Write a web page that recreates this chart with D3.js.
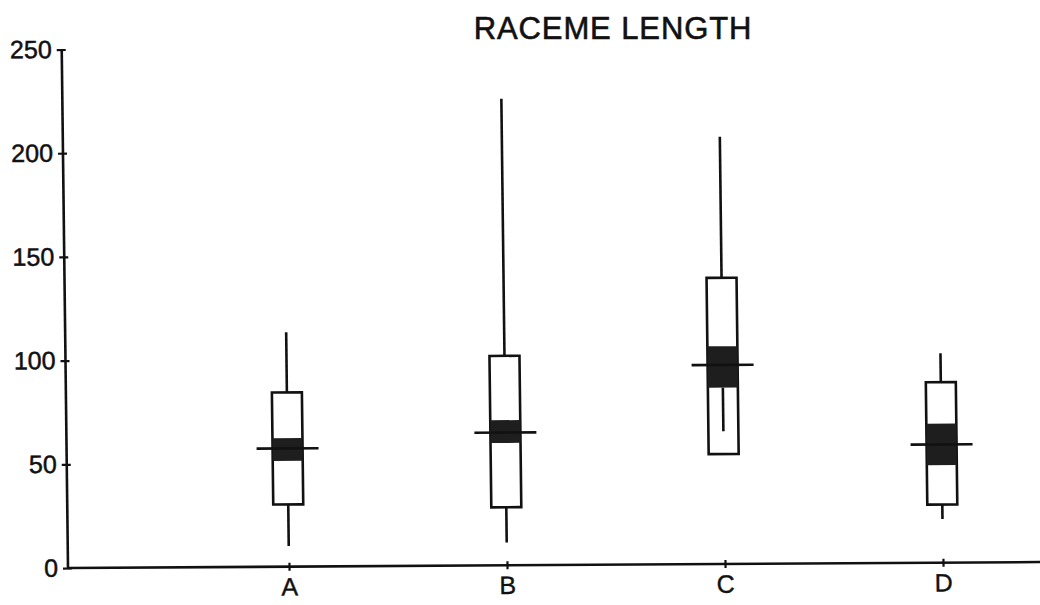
<!DOCTYPE html>
<html>
<head>
<meta charset="utf-8">
<script src="https://cdn.jsdelivr.net/npm/d3@7"></script>
<style>
  html, body { margin: 0; padding: 0; background: #fff; }
  svg { display: block; }
  text { font-family: "Liberation Sans", Arial, sans-serif; fill: #111; }
</style>
</head>
<body>
<svg id="chart" width="1040" height="605"></svg>
<script>
// Raceme length per group: extremes, box, shaded notch band and centre line
const categories  = ["A", "B", "C", "D"];
const lowExtreme  = [10, 11, 64, 21];
const boxLow      = [30, 28, 53, 28];
const notchLow    = [51, 59, 85, 47];
const center      = [57, 64, 96, 57];
const notchHigh   = [62, 70, 105, 67];
const boxHigh     = [84, 101, 138, 87];
const highExtreme = [113, 225, 206, 101];
const yTicks      = [0, 50, 100, 150, 200, 250];
const titleText   = "RACEME LENGTH";

const svg = d3.select("#chart");
const ink = "#111";
const lineW = 2.6;

const originX = 68, originY = 568;
const y = d3.scaleLinear().domain([0, 250]).range([originY, 49.5]);
const x = d3.scalePoint().domain(categories).range([289, 943]);

// the printed page sits slightly askew
const sx = 0.0121, sy = 0.0061;
const g = svg.append("g")
  .attr("transform", `matrix(1 ${-sy} ${sx} 1 ${-sx * originY} ${sy * originX})`);

// y axis
const yAxis = g.append("g")
  .attr("transform", `translate(${originX},0)`)
  .call(d3.axisLeft(y).tickValues(yTicks).tickSize(5).tickPadding(5).tickSizeOuter(0));
yAxis.select(".domain").remove();
yAxis.selectAll(".tick line").attr("x2", 4).attr("x1", -5).attr("stroke", ink).attr("stroke-width", 2.2);
yAxis.selectAll(".tick text")
  .attr("font-size", 25).attr("font-family", "Liberation Sans, Arial, sans-serif")
  .attr("fill", ink).attr("stroke", ink).attr("stroke-width", 0.5);
yAxis.append("line")
  .attr("x1", 0).attr("x2", 0)
  .attr("y1", y(0)).attr("y2", y(250))
  .attr("stroke", ink).attr("stroke-width", lineW);

// x axis
const xAxis = g.append("g")
  .attr("transform", `translate(0,${originY})`)
  .call(d3.axisBottom(x).tickSize(5).tickPadding(6).tickSizeOuter(0));
xAxis.select(".domain").remove();
xAxis.selectAll(".tick line").attr("y1", -4).attr("y2", 4).attr("stroke", ink).attr("stroke-width", 2.2);
xAxis.selectAll(".tick text")
  .attr("font-size", 25).attr("font-family", "Liberation Sans, Arial, sans-serif")
  .attr("fill", ink).attr("stroke", ink).attr("stroke-width", 0.4);
xAxis.append("line")
  .attr("x1", originX).attr("x2", 1045)
  .attr("y1", 0).attr("y2", 0)
  .attr("stroke", ink).attr("stroke-width", lineW);

// boxes
const half = 15, tickHalf = 31;
const rows = categories.map((c, i) => ({
  c, lo: lowExtreme[i], q1: boxLow[i], n1: notchLow[i], m: center[i],
  n2: notchHigh[i], q3: boxHigh[i], hi: highExtreme[i]
}));

const box = g.selectAll(".box").data(rows).join("g").attr("class", "box");

box.append("rect")
  .attr("x", d => x(d.c) - half).attr("width", half * 2)
  .attr("y", d => y(d.q3)).attr("height", d => y(d.q1) - y(d.q3))
  .attr("fill", "#fff").attr("stroke", ink).attr("stroke-width", lineW);

box.append("rect")
  .attr("x", d => x(d.c) - half).attr("width", half * 2)
  .attr("y", d => y(d.n2)).attr("height", d => y(d.n1) - y(d.n2))
  .attr("fill", "#1e1e1e");

// upper whisker
box.append("line")
  .attr("x1", d => x(d.c)).attr("x2", d => x(d.c))
  .attr("y1", d => y(d.q3)).attr("y2", d => y(d.hi))
  .attr("stroke", ink).attr("stroke-width", lineW);

// lower whisker: from the box bottom, or from the shaded band when the extreme lies inside the box
box.append("line")
  .attr("x1", d => x(d.c)).attr("x2", d => x(d.c))
  .attr("y1", d => y(d.lo < d.q1 ? d.q1 : d.n1)).attr("y2", d => y(d.lo))
  .attr("stroke", ink).attr("stroke-width", lineW);

// centre line
box.append("line")
  .attr("x1", d => x(d.c) - tickHalf).attr("x2", d => x(d.c) + tickHalf)
  .attr("y1", d => y(d.m)).attr("y2", d => y(d.m))
  .attr("stroke", ink).attr("stroke-width", lineW);

// title
svg.append("text")
  .attr("x", 613).attr("y", 39)
  .attr("text-anchor", "middle")
  .attr("font-size", 31)
  .attr("letter-spacing", 0.9)
  .attr("stroke", ink).attr("stroke-width", 0.6)
  .text(titleText);
</script>
</body>
</html>
